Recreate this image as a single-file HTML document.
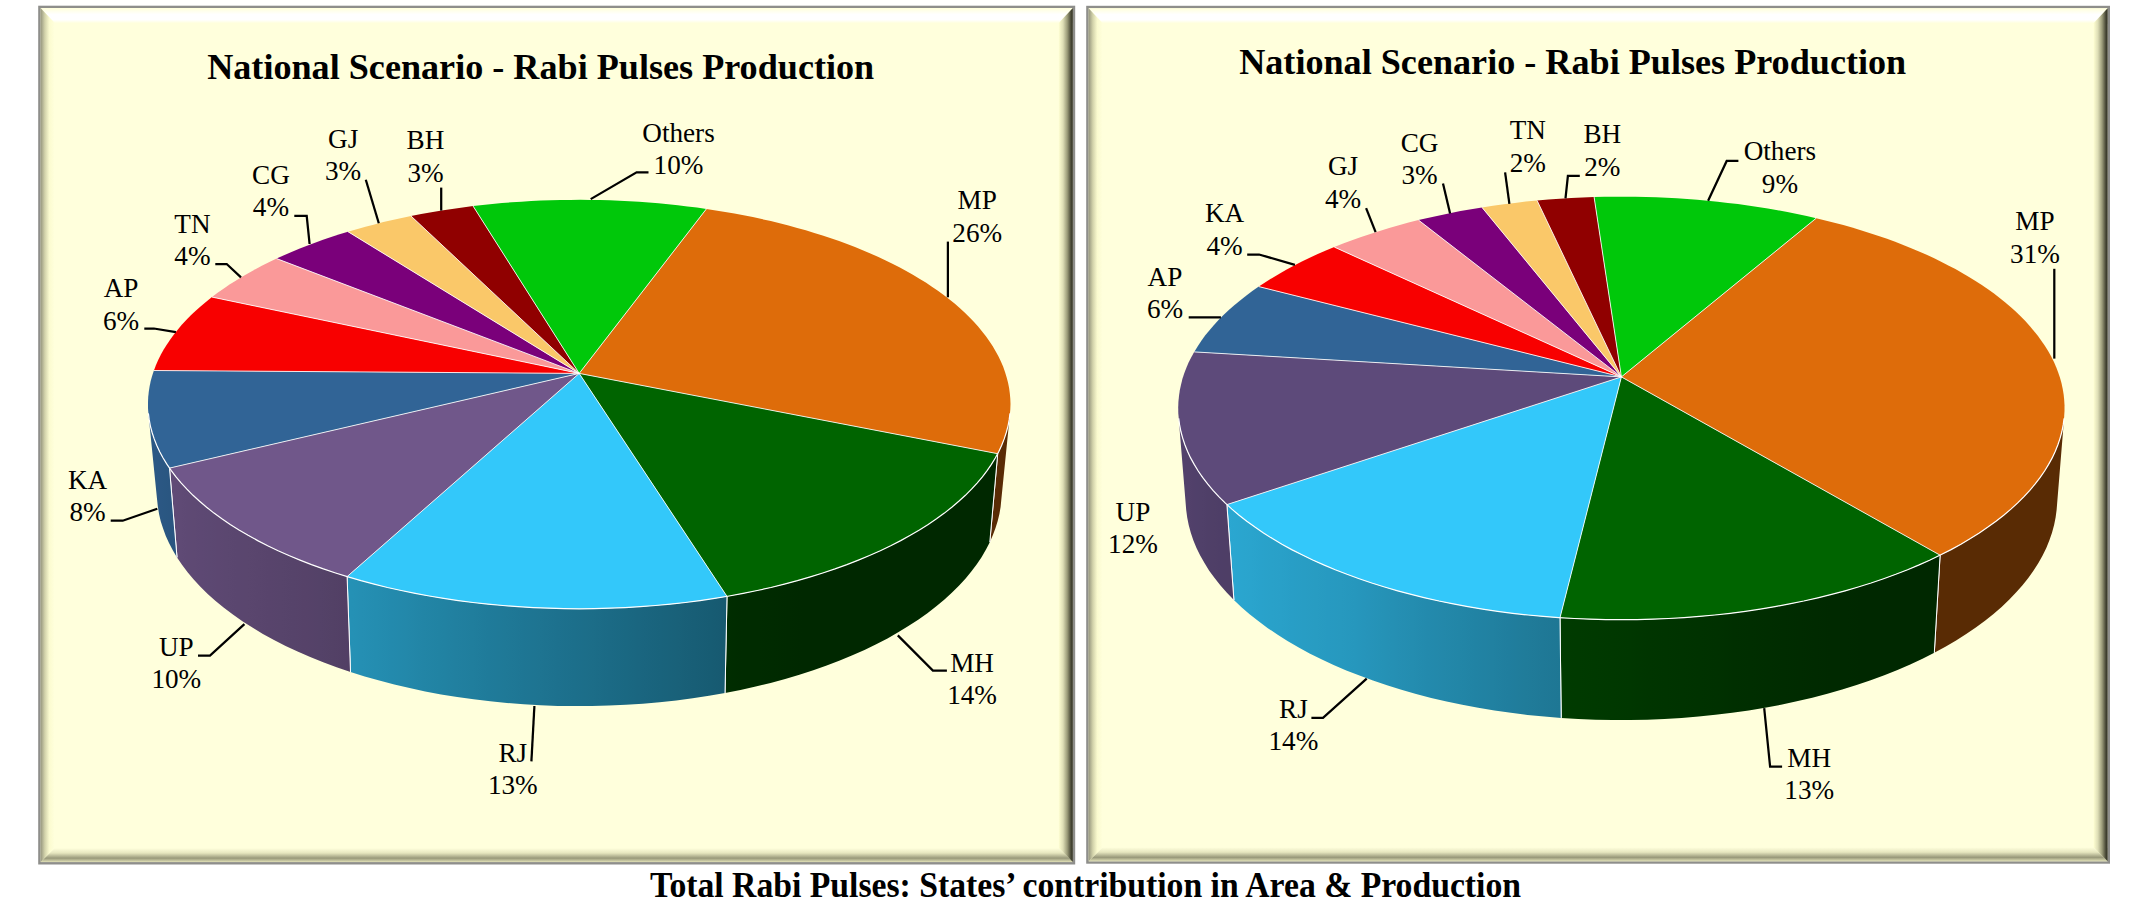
<!DOCTYPE html>
<html lang="en"><head><meta charset="utf-8"><title>Total Rabi Pulses: States’ contribution in Area &amp; Production</title>
<style>
html,body{margin:0;padding:0;background:#fff;}
body{width:2132px;height:921px;overflow:hidden;}
svg{display:block;}
text{font-family:"Liberation Serif","Times New Roman",serif;fill:#000;text-anchor:middle;}
.l text{font-size:26.4px;}
.ti{font-size:35px;font-weight:bold;}
.cap{font-size:35px;font-weight:bold;}
.ld path{fill:none;stroke:#000;stroke-width:2.25;stroke-linejoin:miter;}
.t path{stroke:none;}
.r path{stroke:#fff;stroke-width:.85;fill:none;}
.rim{stroke:#fff;stroke-width:1.2;fill:none;}
.e{stroke:#fff;stroke-width:1;fill:none;}
</style></head><body>
<svg width="2132" height="921" viewBox="0 0 2132 921">
<defs>
<linearGradient id="gt" gradientUnits="objectBoundingBox" x1="0" y1="0" x2="0" y2="1">
<stop offset="0" stop-color="#ffffdc"/><stop offset=".42" stop-color="#ffffff"/><stop offset=".78" stop-color="#ffffff"/><stop offset="1" stop-color="#ffffdc"/></linearGradient>
<linearGradient id="gb" gradientUnits="objectBoundingBox" x1="0" y1="0" x2="0" y2="1">
<stop offset="0" stop-color="#ffffdc"/><stop offset=".35" stop-color="#e6e6bf"/><stop offset=".72" stop-color="#98987a"/><stop offset="1" stop-color="#e2e2b8"/></linearGradient>
<linearGradient id="gl" gradientUnits="objectBoundingBox" x1="0" y1="0" x2="1" y2="0">
<stop offset="0" stop-color="#96967e"/><stop offset=".3" stop-color="#d2d2aa"/><stop offset=".62" stop-color="#fbfbcf"/><stop offset="1" stop-color="#ffffdc"/></linearGradient>
<linearGradient id="gr" gradientUnits="objectBoundingBox" x1="0" y1="0" x2="1" y2="0">
<stop offset="0" stop-color="#ffffd2"/><stop offset=".3" stop-color="#dedeb6"/><stop offset=".6" stop-color="#9c9c7a"/><stop offset=".85" stop-color="#4e4e3b"/><stop offset="1" stop-color="#2b2b20"/></linearGradient>
<linearGradient id="w0" gradientUnits="userSpaceOnUse" x1="997.7" y1="0" x2="1010" y2="0"><stop offset="0.000" stop-color="#592b04"/><stop offset="0.265" stop-color="#592b04"/><stop offset="0.490" stop-color="#592b04"/><stop offset="0.676" stop-color="#592b04"/><stop offset="0.822" stop-color="#592b04"/><stop offset="0.930" stop-color="#592b04"/><stop offset="1.000" stop-color="#592b04"/></linearGradient><linearGradient id="w1" gradientUnits="userSpaceOnUse" x1="727" y1="0" x2="997.7" y2="0"><stop offset="0.000" stop-color="#002d00"/><stop offset="0.058" stop-color="#002b00"/><stop offset="0.115" stop-color="#002b00"/><stop offset="0.171" stop-color="#002a00"/><stop offset="0.226" stop-color="#002900"/><stop offset="0.279" stop-color="#002800"/><stop offset="0.331" stop-color="#002800"/><stop offset="0.382" stop-color="#002800"/><stop offset="0.431" stop-color="#002800"/><stop offset="0.478" stop-color="#002800"/><stop offset="0.524" stop-color="#002800"/><stop offset="0.568" stop-color="#002800"/><stop offset="0.611" stop-color="#002800"/><stop offset="0.651" stop-color="#002800"/><stop offset="0.690" stop-color="#002800"/><stop offset="0.727" stop-color="#002800"/><stop offset="0.762" stop-color="#002800"/><stop offset="0.795" stop-color="#002800"/><stop offset="0.825" stop-color="#002800"/><stop offset="0.854" stop-color="#002800"/><stop offset="0.881" stop-color="#002800"/><stop offset="0.906" stop-color="#002800"/><stop offset="0.929" stop-color="#002800"/><stop offset="0.950" stop-color="#002800"/><stop offset="0.969" stop-color="#002800"/><stop offset="0.985" stop-color="#002800"/><stop offset="1.000" stop-color="#002800"/></linearGradient><linearGradient id="w2" gradientUnits="userSpaceOnUse" x1="347.1" y1="0" x2="727" y2="0"><stop offset="0.000" stop-color="#2592b6"/><stop offset="0.038" stop-color="#258fb3"/><stop offset="0.077" stop-color="#248db0"/><stop offset="0.117" stop-color="#238aad"/><stop offset="0.158" stop-color="#2388aa"/><stop offset="0.200" stop-color="#2285a6"/><stop offset="0.242" stop-color="#2183a3"/><stop offset="0.285" stop-color="#2180a0"/><stop offset="0.329" stop-color="#207e9d"/><stop offset="0.373" stop-color="#1f7b9a"/><stop offset="0.418" stop-color="#1f7997"/><stop offset="0.463" stop-color="#1e7694"/><stop offset="0.508" stop-color="#1e7491"/><stop offset="0.554" stop-color="#1d718e"/><stop offset="0.599" stop-color="#1c6f8b"/><stop offset="0.645" stop-color="#1c6d88"/><stop offset="0.690" stop-color="#1b6a85"/><stop offset="0.735" stop-color="#1a6882"/><stop offset="0.781" stop-color="#1a657f"/><stop offset="0.825" stop-color="#19637c"/><stop offset="0.870" stop-color="#196179"/><stop offset="0.914" stop-color="#185e76"/><stop offset="0.957" stop-color="#175c73"/><stop offset="1.000" stop-color="#175970"/></linearGradient><linearGradient id="w3" gradientUnits="userSpaceOnUse" x1="169.5" y1="0" x2="347.1" y2="0"><stop offset="0.000" stop-color="#604b77"/><stop offset="0.029" stop-color="#604a76"/><stop offset="0.062" stop-color="#5f4a75"/><stop offset="0.098" stop-color="#5e4974"/><stop offset="0.137" stop-color="#5e4973"/><stop offset="0.179" stop-color="#5d4873"/><stop offset="0.224" stop-color="#5c4872"/><stop offset="0.273" stop-color="#5c4771"/><stop offset="0.324" stop-color="#5b4770"/><stop offset="0.379" stop-color="#5a466f"/><stop offset="0.437" stop-color="#5a466e"/><stop offset="0.498" stop-color="#59456d"/><stop offset="0.561" stop-color="#58446c"/><stop offset="0.628" stop-color="#57446b"/><stop offset="0.697" stop-color="#56436a"/><stop offset="0.769" stop-color="#564269"/><stop offset="0.844" stop-color="#544268"/><stop offset="0.921" stop-color="#534166"/><stop offset="1.000" stop-color="#523f65"/></linearGradient><linearGradient id="w4" gradientUnits="userSpaceOnUse" x1="148.4" y1="0" x2="169.5" y2="0"><stop offset="0.000" stop-color="#2c5985"/><stop offset="0.042" stop-color="#2b5985"/><stop offset="0.107" stop-color="#2b5985"/><stop offset="0.196" stop-color="#2b5884"/><stop offset="0.308" stop-color="#2b5884"/><stop offset="0.445" stop-color="#2b5884"/><stop offset="0.605" stop-color="#2b5783"/><stop offset="0.790" stop-color="#2a5782"/><stop offset="1.000" stop-color="#2a5681"/></linearGradient><linearGradient id="w5" gradientUnits="userSpaceOnUse" x1="1940.1" y1="0" x2="2064.1" y2="0"><stop offset="0.000" stop-color="#592b04"/><stop offset="0.091" stop-color="#592b04"/><stop offset="0.179" stop-color="#592b04"/><stop offset="0.262" stop-color="#592b04"/><stop offset="0.341" stop-color="#592b04"/><stop offset="0.415" stop-color="#592b04"/><stop offset="0.486" stop-color="#592b04"/><stop offset="0.552" stop-color="#592b04"/><stop offset="0.613" stop-color="#592b04"/><stop offset="0.670" stop-color="#592b04"/><stop offset="0.722" stop-color="#592b04"/><stop offset="0.770" stop-color="#592b04"/><stop offset="0.814" stop-color="#592b04"/><stop offset="0.852" stop-color="#592b04"/><stop offset="0.887" stop-color="#592b04"/><stop offset="0.917" stop-color="#592b04"/><stop offset="0.942" stop-color="#592b04"/><stop offset="0.963" stop-color="#592b04"/><stop offset="0.980" stop-color="#592b04"/><stop offset="0.992" stop-color="#592b04"/><stop offset="1.000" stop-color="#592b04"/></linearGradient><linearGradient id="w6" gradientUnits="userSpaceOnUse" x1="1560" y1="0" x2="1940.1" y2="0"><stop offset="0.000" stop-color="#003b00"/><stop offset="0.046" stop-color="#003a00"/><stop offset="0.092" stop-color="#003900"/><stop offset="0.138" stop-color="#003800"/><stop offset="0.185" stop-color="#003700"/><stop offset="0.231" stop-color="#003500"/><stop offset="0.277" stop-color="#003400"/><stop offset="0.323" stop-color="#003300"/><stop offset="0.368" stop-color="#003200"/><stop offset="0.414" stop-color="#003100"/><stop offset="0.458" stop-color="#002f00"/><stop offset="0.503" stop-color="#002e00"/><stop offset="0.546" stop-color="#002d00"/><stop offset="0.589" stop-color="#002c00"/><stop offset="0.632" stop-color="#002b00"/><stop offset="0.673" stop-color="#002a00"/><stop offset="0.714" stop-color="#002900"/><stop offset="0.753" stop-color="#002900"/><stop offset="0.792" stop-color="#002800"/><stop offset="0.830" stop-color="#002800"/><stop offset="0.866" stop-color="#002800"/><stop offset="0.902" stop-color="#002800"/><stop offset="0.936" stop-color="#002800"/><stop offset="0.968" stop-color="#002800"/><stop offset="1.000" stop-color="#002800"/></linearGradient><linearGradient id="w7" gradientUnits="userSpaceOnUse" x1="1226.9" y1="0" x2="1560" y2="0"><stop offset="0.000" stop-color="#2ba7d1"/><stop offset="0.023" stop-color="#2aa6d0"/><stop offset="0.048" stop-color="#2aa5ce"/><stop offset="0.074" stop-color="#2aa4cd"/><stop offset="0.102" stop-color="#29a2cb"/><stop offset="0.132" stop-color="#29a1c9"/><stop offset="0.163" stop-color="#29a0c8"/><stop offset="0.196" stop-color="#289ec6"/><stop offset="0.231" stop-color="#289dc4"/><stop offset="0.267" stop-color="#289cc2"/><stop offset="0.304" stop-color="#279ac1"/><stop offset="0.343" stop-color="#2799bf"/><stop offset="0.383" stop-color="#2697bd"/><stop offset="0.424" stop-color="#2694ba"/><stop offset="0.467" stop-color="#2592b6"/><stop offset="0.511" stop-color="#258fb3"/><stop offset="0.556" stop-color="#248db0"/><stop offset="0.602" stop-color="#238aad"/><stop offset="0.649" stop-color="#2388aa"/><stop offset="0.697" stop-color="#2286a7"/><stop offset="0.746" stop-color="#2183a4"/><stop offset="0.796" stop-color="#2181a1"/><stop offset="0.846" stop-color="#207e9e"/><stop offset="0.897" stop-color="#207c9a"/><stop offset="0.948" stop-color="#1f7997"/><stop offset="1.000" stop-color="#1e7794"/></linearGradient><linearGradient id="w8" gradientUnits="userSpaceOnUse" x1="1178.7" y1="0" x2="1226.9" y2="0"><stop offset="0.000" stop-color="#53426c"/><stop offset="0.021" stop-color="#52426c"/><stop offset="0.052" stop-color="#52416c"/><stop offset="0.095" stop-color="#52416c"/><stop offset="0.149" stop-color="#52416b"/><stop offset="0.215" stop-color="#52416b"/><stop offset="0.292" stop-color="#51406a"/><stop offset="0.381" stop-color="#50406a"/><stop offset="0.482" stop-color="#504069"/><stop offset="0.594" stop-color="#4f3f68"/><stop offset="0.717" stop-color="#4f3f67"/><stop offset="0.853" stop-color="#4e3e67"/><stop offset="1.000" stop-color="#4e3e66"/></linearGradient></defs>
<rect x="38.2" y="5.7" width="1037" height="858.8" fill="#8e8e8b"/><rect x="40.6" y="8.1" width="1032.2" height="854" fill="#ffffdc"/><polygon points="40.6,8.1 1072.8,8.1 1058.8,23.1 54.6,23.1" fill="url(#gt)"/><polygon points="40.6,862.1 1072.8,862.1 1058.8,848.1 54.6,848.1" fill="url(#gb)"/><polygon points="40.6,8.1 54.6,23.1 54.6,848.1 40.6,862.1" fill="url(#gl)"/><polygon points="1072.8,8.1 1058.8,23.1 1058.8,848.1 1072.8,862.1" fill="url(#gr)"/>
<rect x="1086.2" y="5.8" width="1023.8" height="857.9" fill="#8e8e8b"/><rect x="1088.6" y="8.2" width="1019" height="853.1" fill="#ffffdc"/><polygon points="1088.6,8.2 2107.6,8.2 2093.6,23.2 1102.6,23.2" fill="url(#gt)"/><polygon points="1088.6,861.3 2107.6,861.3 2093.6,847.3 1102.6,847.3" fill="url(#gb)"/><polygon points="1088.6,8.2 1102.6,23.2 1102.6,847.3 1088.6,861.3" fill="url(#gl)"/><polygon points="2107.6,8.2 2093.6,23.2 2093.6,847.3 2107.6,861.3" fill="url(#gr)"/>
<g><path d="M1010 413.4L1009.2 420.1L1007.8 426.8L1006 433.5L1003.7 440.3L1000.9 447L997.7 453.7L989.8 542.2L992.9 535.1L995.5 528.1L997.7 521L999.4 513.9L1000.6 506.9L1001.3 499.8Z" fill="url(#w0)"/><path d="M997.7 453.7L989.8 542.2" class="e"/><path d="M997.7 453.7L993.7 460.7L989.2 467.7L984.1 474.7L978.5 481.6L972.3 488.4L965.5 495.1L958.3 501.8L950.4 508.3L942.1 514.8L933.2 521.1L923.7 527.3L913.8 533.3L903.3 539.2L892.3 544.9L880.9 550.4L868.9 555.7L856.5 560.9L843.7 565.8L830.4 570.5L816.7 575L802.6 579.2L788.2 583.2L773.4 586.9L758.2 590.3L742.8 593.5L727 596.4L725 693L740.5 689.9L755.7 686.5L770.6 682.9L785.2 678.9L799.4 674.7L813.3 670.2L826.7 665.5L839.8 660.5L852.4 655.3L864.5 649.9L876.2 644.2L887.5 638.4L898.2 632.3L908.4 626.1L918.2 619.7L927.4 613.2L936 606.5L944.2 599.7L951.8 592.8L958.9 585.8L965.4 578.7L971.3 571.5L976.8 564.2L981.7 556.9L986 549.6L989.8 542.2Z" fill="url(#w1)"/><path d="M997.7 453.7L989.8 542.2" class="e"/><path d="M727 596.4L725 693" class="e"/><path d="M727 596.4L710.8 599L694.3 601.3L677.6 603.4L660.7 605.1L643.7 606.5L626.6 607.5L609.3 608.3L592 608.7L574.7 608.8L557.4 608.5L540.2 607.9L523 607L505.9 605.8L488.9 604.2L472.2 602.4L455.6 600.2L439.2 597.7L423.1 594.9L407.2 591.8L391.7 588.4L376.5 584.8L361.6 580.8L347.1 576.6L350.5 672L364.7 676.5L379.3 680.6L394.3 684.5L409.6 688.1L425.2 691.4L441.1 694.4L457.2 697L473.6 699.3L490.2 701.3L506.9 703L523.7 704.3L540.7 705.2L557.7 705.9L574.8 706.1L591.9 706L608.9 705.6L625.9 704.8L642.8 703.7L659.6 702.2L676.3 700.4L692.7 698.3L709 695.8L725 693Z" fill="url(#w2)"/><path d="M727 596.4L725 693" class="e"/><path d="M347.1 576.6L350.5 672" class="e"/><path d="M347.1 576.6L333 572.2L319.3 567.5L306.1 562.5L293.3 557.4L281 552L269.2 546.4L257.9 540.7L247.1 534.7L236.9 528.6L227.1 522.4L218 516L209.3 509.4L201.3 502.8L193.8 496L186.9 489.2L180.5 482.2L174.7 475.2L169.5 468.1L177 557.4L182 564.8L187.6 572.2L193.7 579.5L200.4 586.7L207.7 593.9L215.6 600.9L223.9 607.8L232.9 614.6L242.4 621.2L252.4 627.6L262.9 633.9L274 640L285.6 645.9L297.6 651.6L310.2 657.1L323.2 662.3L336.6 667.3L350.5 672Z" fill="url(#w3)"/><path d="M347.1 576.6L350.5 672" class="e"/><path d="M169.5 468.1L177 557.4" class="e"/><path d="M169.5 468.1L165.1 461.4L161.2 454.5L157.8 447.7L154.9 440.8L152.5 434L150.6 427.1L149.3 420.2L148.4 413.4L157.1 499.8L157.9 507L159.1 514.2L160.8 521.4L163.1 528.6L165.8 535.9L169 543.1L172.8 550.2L177 557.4Z" fill="url(#w4)"/><path d="M169.5 468.1L177 557.4" class="e"/></g>
<g class="t"><path d="M579.2 373.4L706.4 208.9L715.8 210.4L725.2 211.9L734.4 213.5L743.6 215.3L752.8 217.1L761.8 219.1L770.8 221.1L779.7 223.3L788.5 225.5L797.2 227.9L805.8 230.3L814.3 232.9L822.6 235.5L830.9 238.3L839.1 241.1L847.1 244.1L855 247.1L862.7 250.2L870.4 253.5L877.9 256.8L885.2 260.2L892.4 263.7L899.4 267.3L906.2 271L912.9 274.8L919.4 278.7L925.8 282.6L931.9 286.7L937.9 290.8L943.7 295L949.2 299.3L954.6 303.6L959.7 308.1L964.6 312.6L969.4 317.2L973.8 321.8L978.1 326.6L982.1 331.4L985.9 336.2L989.4 341.2L992.6 346.1L995.6 351.2L998.4 356.3L1000.9 361.4L1003.1 366.6L1005 371.9L1006.6 377.2L1008 382.5L1009.1 387.9L1009.8 393.2L1010.3 398.7L1010.5 404.1L1010.3 409.6L1009.8 415.1L1009.1 420.6L1008 426.1L1006.6 431.6L1004.8 437.2L1002.8 442.7L1000.4 448.2L997.7 453.7Z" fill="#de6c0a"/><path d="M579.2 373.4L997.7 453.7L994.6 459.3L991.2 464.8L987.4 470.3L983.3 475.7L978.8 481.2L974 486.5L968.9 491.9L963.4 497.2L957.6 502.4L951.4 507.6L944.9 512.7L938.1 517.7L930.9 522.6L923.4 527.5L915.6 532.2L907.5 536.9L899 541.4L890.3 545.9L881.2 550.2L871.9 554.5L862.2 558.6L852.3 562.5L842.1 566.4L831.6 570.1L820.9 573.6L809.9 577L798.7 580.3L787.3 583.4L775.6 586.3L763.8 589.1L751.7 591.7L739.5 594.1L727 596.4Z" fill="#006400"/><path d="M579.2 373.4L727 596.4L714.6 598.4L702 600.3L689.3 602L676.5 603.5L663.5 604.8L650.5 605.9L637.4 606.9L624.3 607.6L611 608.2L597.8 608.6L584.5 608.7L571.3 608.7L558 608.5L544.8 608.1L531.6 607.5L518.4 606.7L505.3 605.7L492.3 604.6L479.4 603.2L466.6 601.7L453.9 599.9L441.4 598L428.9 596L416.7 593.7L404.6 591.3L392.7 588.7L381 585.9L369.5 583L358.2 579.9L347.1 576.6Z" fill="#33c8fa"/><path d="M579.2 373.4L347.1 576.6L336 573.2L325.2 569.5L314.7 565.8L304.4 561.9L294.4 557.8L284.7 553.7L275.3 549.4L266.2 545L257.4 540.4L249 535.8L240.8 531L233 526.2L225.5 521.3L218.3 516.3L211.5 511.2L205.1 506L198.9 500.7L193.2 495.4L187.7 490.1L182.7 484.7L177.9 479.2L173.5 473.7L169.5 468.1Z" fill="#70578a"/><path d="M579.2 373.4L169.5 468.1L165.9 462.7L162.7 457.3L159.8 451.8L157.2 446.3L154.9 440.9L153 435.4L151.3 429.9L150 424.4L149 418.9L148.4 413.4L148 408L148 402.5L148.2 397.1L148.8 391.7L149.6 386.4L150.7 381L152.2 375.7L153.9 370.5Z" fill="#316496"/><path d="M579.2 373.4L153.9 370.5L155.9 365.2L158.2 359.9L160.8 354.7L163.7 349.5L166.9 344.4L170.3 339.4L173.9 334.4L177.9 329.5L182 324.6L186.5 319.8L191.1 315.1L196 310.5L201.1 305.9L206.5 301.5L212 297.1Z" fill="#f80000"/><path d="M579.2 373.4L212 297.1L217.6 292.8L223.5 288.7L229.5 284.6L235.7 280.7L242.1 276.8L248.7 273L255.4 269.2L262.3 265.6L269.4 262.1L276.6 258.6Z" fill="#fa9999"/><path d="M579.2 373.4L276.6 258.6L284 255.3L291.5 252L299.2 248.8L307 245.7L315 242.7L323 239.8L331.2 237L339.5 234.3L348 231.7Z" fill="#7a007a"/><path d="M579.2 373.4L348 231.7L356.7 229.2L365.5 226.7L374.4 224.4L383.4 222.1L392.5 220L401.7 217.9L411 216Z" fill="#fac869"/><path d="M579.2 373.4L411 216L421.2 214.1L431.4 212.2L441.7 210.5L452.1 208.9L462.6 207.4L473.1 206.1Z" fill="#900000"/><path d="M579.2 373.4L473.1 206.1L482.7 205L492.3 204L502 203.1L511.7 202.3L521.5 201.7L531.2 201.1L541 200.6L550.8 200.3L560.6 200L570.5 199.9L580.3 199.8L590.1 199.9L599.9 200.1L609.7 200.3L619.5 200.7L629.3 201.2L639.1 201.8L648.8 202.5L658.5 203.3L668.2 204.2L677.8 205.2L687.4 206.4L696.9 207.6L706.4 208.9Z" fill="#00c80a"/></g>
<g class="r"><path d="M579.2 373.4L706.4 208.9"/><path d="M579.2 373.4L997.7 453.7"/><path d="M579.2 373.4L727 596.4"/><path d="M579.2 373.4L347.1 576.6"/><path d="M579.2 373.4L169.5 468.1"/><path d="M579.2 373.4L153.9 370.5"/><path d="M579.2 373.4L212 297.1"/><path d="M579.2 373.4L276.6 258.6"/><path d="M579.2 373.4L348 231.7"/><path d="M579.2 373.4L411 216"/><path d="M579.2 373.4L473.1 206.1"/></g>
<path class="rim" d="M1010 413.4L1009.2 419.7L1008 426.1L1006.3 432.5L1004.2 438.9L1001.7 445.3L998.7 451.7L995.3 458L991.4 464.4L987.1 470.6L982.4 476.9L977.1 483.1L971.5 489.2L965.4 495.3L958.8 501.3L951.8 507.2L944.4 513.1L936.5 518.8L928.2 524.4L919.4 529.9L910.3 535.3L900.7 540.6L890.7 545.7L880.3 550.7L869.5 555.5L858.4 560.1L846.9 564.6L835 568.9L822.8 573L810.3 576.9L797.4 580.7L784.3 584.2L770.9 587.5L757.2 590.5L743.2 593.4L729.1 596L714.7 598.4L700.1 600.6L685.4 602.5L670.5 604.1L655.5 605.5L640.4 606.7L625.1 607.6L609.9 608.2L594.5 608.6L579.2 608.8L563.9 608.6L548.5 608.2L533.3 607.6L518 606.7L502.9 605.5L487.9 604.1L473 602.5L458.3 600.6L443.7 598.4L429.3 596L415.2 593.4L401.2 590.5L387.5 587.5L374.1 584.2L361 580.7L348.1 576.9L335.6 573L323.4 568.9L311.5 564.6L300 560.1L288.9 555.5L278.1 550.7L267.7 545.7L257.7 540.6L248.1 535.3L239 529.9L230.2 524.4L221.9 518.8L214 513.1L206.6 507.2L199.6 501.3L193 495.3L186.9 489.2L181.3 483.1L176 476.9L171.3 470.6L167 464.4L163.1 458L159.7 451.7L156.7 445.3L154.2 438.9L152.1 432.5L150.4 426.1L149.2 419.7L148.4 413.4"/>
<g><path d="M2064.1 418.3L2063.1 425.5L2061.6 432.8L2059.5 440.1L2056.9 447.4L2053.8 454.7L2050.1 461.9L2045.8 469.1L2041 476.3L2035.6 483.4L2029.7 490.5L2023.2 497.5L2016.1 504.4L2008.5 511.2L2000.3 517.9L1991.6 524.5L1982.4 530.9L1972.6 537.2L1962.3 543.4L1951.5 549.4L1940.1 555.2L1934.3 652.8L1945.4 646.8L1956.1 640.5L1966.2 634.1L1975.8 627.5L1985 620.8L1993.5 613.9L2001.6 606.9L2009.1 599.8L2016 592.6L2022.5 585.3L2028.3 578L2033.6 570.5L2038.4 563L2042.6 555.5L2046.3 547.9L2049.4 540.3L2052 532.7L2054.1 525.1L2055.6 517.5L2056.6 509.9Z" fill="url(#w5)"/><path d="M1940.1 555.2L1934.3 652.8" class="e"/><path d="M1940.1 555.2L1928.2 560.9L1915.7 566.4L1902.7 571.7L1889.3 576.7L1875.4 581.5L1861.1 586.1L1846.4 590.4L1831.4 594.5L1815.9 598.3L1800.2 601.8L1784.1 605L1767.7 607.9L1751.1 610.5L1734.3 612.8L1717.3 614.7L1700.1 616.4L1682.7 617.7L1665.3 618.7L1647.7 619.4L1630.2 619.7L1612.6 619.7L1595 619.4L1577.5 618.7L1560 617.7L1561.2 717.9L1578.3 719L1595.5 719.7L1612.7 720L1630 720L1647.2 719.7L1664.4 719L1681.6 717.9L1698.6 716.6L1715.4 714.8L1732.2 712.8L1748.7 710.4L1765 707.7L1781 704.7L1796.8 701.3L1812.3 697.7L1827.4 693.8L1842.2 689.6L1856.6 685.1L1870.7 680.3L1884.3 675.3L1897.5 670L1910.2 664.5L1922.5 658.8L1934.3 652.8Z" fill="url(#w6)"/><path d="M1940.1 555.2L1934.3 652.8" class="e"/><path d="M1560 617.7L1561.2 717.9" class="e"/><path d="M1560 617.7L1542.8 616.4L1525.7 614.7L1508.7 612.8L1492 610.5L1475.5 607.9L1459.2 605.1L1443.2 601.9L1427.5 598.4L1412.2 594.7L1397.2 590.7L1382.5 586.4L1368.3 581.8L1354.5 577.1L1341.1 572.1L1328.2 566.8L1315.7 561.4L1303.7 555.7L1292.3 549.9L1281.3 543.8L1270.9 537.6L1261 531.3L1251.6 524.8L1242.8 518.2L1234.6 511.4L1226.9 504.6L1233.9 600L1241.5 607.2L1249.6 614.2L1258.3 621.1L1267.5 627.9L1277.3 634.5L1287.5 641L1298.3 647.3L1309.6 653.4L1321.4 659.3L1333.6 664.9L1346.3 670.4L1359.5 675.6L1373 680.6L1387 685.3L1401.4 689.8L1416.1 694L1431.2 697.9L1446.6 701.5L1462.3 704.8L1478.2 707.8L1494.5 710.5L1510.9 712.8L1527.5 714.9L1544.3 716.6L1561.2 717.9Z" fill="url(#w7)"/><path d="M1560 617.7L1561.2 717.9" class="e"/><path d="M1226.9 504.6L1233.9 600" class="e"/><path d="M1226.9 504.6L1219.8 497.6L1213.3 490.6L1207.3 483.6L1201.9 476.4L1197.1 469.2L1192.8 462L1189.1 454.7L1185.9 447.5L1183.3 440.2L1181.2 432.9L1179.7 425.6L1178.7 418.3L1186.2 509.9L1187.2 517.5L1188.7 525.1L1190.8 532.8L1193.4 540.4L1196.5 548L1200.2 555.6L1204.5 563.1L1209.2 570.7L1214.6 578.1L1220.5 585.5L1226.9 592.8L1233.9 600Z" fill="url(#w8)"/><path d="M1226.9 504.6L1233.9 600" class="e"/></g>
<g class="t"><path d="M1621.4 376.9L1816.2 218.2L1825.3 220.4L1834.3 222.7L1843.3 225.1L1852.1 227.6L1860.8 230.2L1869.4 232.9L1877.9 235.7L1886.3 238.6L1894.5 241.6L1902.6 244.7L1910.6 247.9L1918.4 251.2L1926.1 254.6L1933.7 258.1L1941.1 261.7L1948.3 265.4L1955.4 269.1L1962.2 273L1969 277L1975.5 281L1981.8 285.1L1988 289.3L1994 293.6L1999.7 298L2005.3 302.5L2010.6 307L2015.7 311.6L2020.6 316.3L2025.3 321.1L2029.7 325.9L2033.9 330.9L2037.8 335.8L2041.5 340.9L2045 346L2048.1 351.1L2051.1 356.3L2053.7 361.6L2056.1 366.9L2058.1 372.3L2060 377.7L2061.5 383.2L2062.7 388.7L2063.6 394.2L2064.2 399.7L2064.5 405.3L2064.5 410.9L2064.2 416.6L2063.6 422.2L2062.7 427.9L2061.4 433.6L2059.8 439.2L2057.9 444.9L2055.6 450.6L2053 456.2L2050.1 461.9L2046.8 467.5L2043.2 473.1L2039.3 478.7L2035 484.2L2030.4 489.7L2025.4 495.1L2020.1 500.5L2014.5 505.9L2008.5 511.2L2002.2 516.4L1995.6 521.5L1988.6 526.6L1981.3 531.6L1973.7 536.5L1965.8 541.3L1957.6 546.1L1949 550.7L1940.1 555.2Z" fill="#de6c0a"/><path d="M1621.4 376.9L1940.1 555.2L1930.9 559.6L1921.4 563.9L1911.5 568.1L1901.4 572.2L1891 576.1L1880.4 579.9L1869.5 583.5L1858.3 587L1846.9 590.3L1835.3 593.5L1823.4 596.5L1811.4 599.3L1799.1 602L1786.7 604.5L1774.1 606.8L1761.3 608.9L1748.4 610.9L1735.4 612.6L1722.2 614.2L1709 615.6L1695.6 616.8L1682.2 617.7L1668.7 618.5L1655.1 619.1L1641.5 619.5L1627.9 619.7L1614.3 619.7L1600.7 619.5L1587.1 619.1L1573.5 618.5L1560 617.7Z" fill="#006400"/><path d="M1621.4 376.9L1560 617.7L1546.5 616.7L1533.1 615.5L1519.8 614.1L1506.6 612.5L1493.5 610.7L1480.6 608.8L1467.8 606.6L1455.2 604.3L1442.7 601.8L1430.4 599.1L1418.4 596.2L1406.5 593.2L1394.8 590L1383.4 586.7L1372.3 583.1L1361.3 579.5L1350.7 575.7L1340.3 571.7L1330.2 567.6L1320.3 563.4L1310.8 559.1L1301.6 554.6L1292.6 550.1L1284 545.4L1275.7 540.6L1267.7 535.7L1260.1 530.7L1252.8 525.6L1245.8 520.5L1239.1 515.2L1232.8 509.9L1226.9 504.6Z" fill="#33c8fa"/><path d="M1621.4 376.9L1226.9 504.6L1221.2 499.1L1215.9 493.5L1210.9 488L1206.3 482.3L1202.1 476.6L1198.2 470.9L1194.6 465.2L1191.4 459.5L1188.6 453.7L1186.1 447.9L1183.9 442.1L1182.1 436.3L1180.7 430.5L1179.6 424.7L1178.8 418.9L1178.3 413.2L1178.2 407.4L1178.4 401.7L1179 396L1179.8 390.3L1181 384.7L1182.4 379.1L1184.2 373.6L1186.3 368.1L1188.6 362.6L1191.3 357.2L1194.2 351.9Z" fill="#5d4a7a"/><path d="M1621.4 376.9L1194.2 351.9L1197.6 346.4L1201.2 341L1205.1 335.6L1209.3 330.4L1213.8 325.2L1218.5 320.1L1223.5 315L1228.8 310.1L1234.3 305.2L1240.1 300.4L1246.1 295.7L1252.3 291.1L1258.8 286.6Z" fill="#316496"/><path d="M1621.4 376.9L1258.8 286.6L1265.4 282.2L1272.3 277.9L1279.4 273.7L1286.7 269.6L1294.2 265.5L1301.9 261.6L1309.7 257.8L1317.7 254.1L1325.9 250.5L1334.3 247.1Z" fill="#f80000"/><path d="M1621.4 376.9L1334.3 247.1L1343.1 243.6L1352 240.2L1361.1 237L1370.3 233.9L1379.7 230.9L1389.2 228L1398.9 225.3L1408.6 222.6L1418.5 220.1Z" fill="#fa9999"/><path d="M1621.4 376.9L1418.5 220.1L1428.8 217.7L1439.3 215.4L1449.8 213.2L1460.5 211.1L1471.2 209.2L1482 207.4Z" fill="#7a007a"/><path d="M1621.4 376.9L1482 207.4L1492.9 205.8L1503.8 204.3L1514.9 202.9L1525.9 201.6L1537.1 200.5Z" fill="#fac869"/><path d="M1621.4 376.9L1537.1 200.5L1548.4 199.6L1559.8 198.7L1571.2 198L1582.6 197.5L1594.1 197.1Z" fill="#900000"/><path d="M1621.4 376.9L1594.1 197.1L1604.4 196.8L1614.8 196.7L1625.1 196.7L1635.5 196.8L1645.8 197L1656.2 197.3L1666.5 197.8L1676.8 198.3L1687.1 199L1697.3 199.8L1707.5 200.7L1717.7 201.7L1727.8 202.9L1737.9 204.1L1747.9 205.5L1757.9 207L1767.8 208.5L1777.6 210.3L1787.4 212.1L1797.1 214L1806.7 216L1816.2 218.2Z" fill="#00c80a"/></g>
<g class="r"><path d="M1621.4 376.9L1816.2 218.2"/><path d="M1621.4 376.9L1940.1 555.2"/><path d="M1621.4 376.9L1560 617.7"/><path d="M1621.4 376.9L1226.9 504.6"/><path d="M1621.4 376.9L1194.2 351.9"/><path d="M1621.4 376.9L1258.8 286.6"/><path d="M1621.4 376.9L1334.3 247.1"/><path d="M1621.4 376.9L1418.5 220.1"/><path d="M1621.4 376.9L1482 207.4"/><path d="M1621.4 376.9L1537.1 200.5"/><path d="M1621.4 376.9L1594.1 197.1"/></g>
<path class="rim" d="M2064.1 418.3L2063.2 424.9L2061.9 431.5L2060.1 438.1L2057.9 444.7L2055.3 451.3L2052.2 457.9L2048.6 464.4L2044.6 471L2040.2 477.4L2035.2 483.9L2029.8 490.3L2024 496.6L2017.7 502.9L2010.9 509.1L2003.7 515.2L1996 521.2L1987.9 527.1L1979.3 532.9L1970.4 538.6L1960.9 544.2L1951.1 549.6L1940.8 554.8L1930.1 560L1919.1 564.9L1907.6 569.7L1895.8 574.3L1883.6 578.7L1871.1 583L1858.2 587L1845.1 590.8L1831.6 594.4L1817.8 597.8L1803.8 601L1789.5 603.9L1775 606.6L1760.2 609.1L1745.3 611.3L1730.2 613.3L1714.9 615L1699.5 616.4L1684.1 617.6L1668.5 618.5L1652.8 619.2L1637.1 619.6L1621.4 619.7L1605.7 619.6L1590 619.2L1574.3 618.5L1558.7 617.6L1543.3 616.4L1527.9 615L1512.6 613.3L1497.5 611.3L1482.6 609.1L1467.8 606.6L1453.3 603.9L1439 601L1425 597.8L1411.2 594.4L1397.7 590.8L1384.6 587L1371.7 583L1359.2 578.7L1347 574.3L1335.2 569.7L1323.7 564.9L1312.7 560L1302 554.8L1291.7 549.6L1281.9 544.2L1272.4 538.6L1263.5 532.9L1254.9 527.1L1246.8 521.2L1239.1 515.2L1231.9 509.1L1225.1 502.9L1218.8 496.6L1213 490.3L1207.6 483.9L1202.6 477.4L1198.2 471L1194.2 464.4L1190.6 457.9L1187.5 451.3L1184.9 444.7L1182.7 438.1L1180.9 431.5L1179.6 424.9L1178.7 418.3"/>
<g class="ld"><path d="M648.5 172.4L636.6 172.4L590.7 199.1"/><path d="M947.9 241.6L947.9 297.3"/><path d="M897.8 635.4L932.9 670.5L946.9 670.5"/><path d="M534.4 706L531.4 761.4"/><path d="M198 655.7L210 655.7L244.4 624.2"/><path d="M110.7 520.7L122.7 520.7L157.3 508.8"/><path d="M144.3 328.5L153.9 328.5L175.9 332.1"/><path d="M215.3 264L226.7 264L241 277.4"/><path d="M294.3 215.8L306.7 215.8L309.6 244"/><path d="M365.8 179.8L378.8 223.2"/><path d="M441.2 187.6L441.2 210.6"/></g>
<g class="ld"><path d="M1188.7 317.3L1220.9 317.3"/><path d="M1247.2 254.5L1259.1 254.5L1294.9 264.8"/><path d="M1366.1 208.2L1375.6 232.1"/><path d="M1443 183.6L1450.1 213.4"/><path d="M1505.1 172.4L1509.4 203.9"/><path d="M1579.8 175.9L1567.9 175.9L1565.5 198.4"/><path d="M1738.4 160.9L1726.7 160.9L1708.1 200.8"/><path d="M2054.3 268.8L2054.3 358.6"/><path d="M1764.2 708.1L1770.1 766.6L1782.1 766.6"/><path d="M1311.4 717.9L1323 717.9L1366.7 678.7"/></g>
<g class="l"><text transform="translate(678.5 141.8) scale(1.03 1)">Others</text><text transform="translate(678.5 174.1) scale(1.03 1)">10%</text><text transform="translate(977.2 209.2) scale(1.03 1)">MP</text><text transform="translate(977.2 241.5) scale(1.03 1)">26%</text><text transform="translate(972.1 671.9) scale(1.03 1)">MH</text><text transform="translate(972.1 704.2) scale(1.03 1)">14%</text><text transform="translate(512.8 761.8) scale(1.03 1)">RJ</text><text transform="translate(512.8 794) scale(1.03 1)">13%</text><text transform="translate(176.3 655.5) scale(1.03 1)">UP</text><text transform="translate(176.3 687.8) scale(1.03 1)">10%</text><text transform="translate(87.6 489) scale(1.03 1)">KA</text><text transform="translate(87.6 521.3) scale(1.03 1)">8%</text><text transform="translate(121.1 297.3) scale(1.03 1)">AP</text><text transform="translate(121.1 329.6) scale(1.03 1)">6%</text><text transform="translate(192.4 232.8) scale(1.03 1)">TN</text><text transform="translate(192.4 265.1) scale(1.03 1)">4%</text><text transform="translate(270.9 183.8) scale(1.03 1)">CG</text><text transform="translate(270.9 216.1) scale(1.03 1)">4%</text><text transform="translate(343.1 147.7) scale(1.03 1)">GJ</text><text transform="translate(343.1 180) scale(1.03 1)">3%</text><text transform="translate(425.5 149.4) scale(1.03 1)">BH</text><text transform="translate(425.5 181.8) scale(1.03 1)">3%</text></g>
<g class="l"><text transform="translate(1165 286) scale(1.03 1)">AP</text><text transform="translate(1165 318.3) scale(1.03 1)">6%</text><text transform="translate(1224.6 222.2) scale(1.03 1)">KA</text><text transform="translate(1224.6 254.5) scale(1.03 1)">4%</text><text transform="translate(1343 175.4) scale(1.03 1)">GJ</text><text transform="translate(1343 207.7) scale(1.03 1)">4%</text><text transform="translate(1419.6 151.5) scale(1.03 1)">CG</text><text transform="translate(1419.6 183.8) scale(1.03 1)">3%</text><text transform="translate(1527.8 139.2) scale(1.03 1)">TN</text><text transform="translate(1527.8 171.5) scale(1.03 1)">2%</text><text transform="translate(1602.3 143.4) scale(1.03 1)">BH</text><text transform="translate(1602.3 175.8) scale(1.03 1)">2%</text><text transform="translate(1779.9 160.2) scale(1.03 1)">Others</text><text transform="translate(1779.9 192.5) scale(1.03 1)">9%</text><text transform="translate(2035 230.3) scale(1.03 1)">MP</text><text transform="translate(2035 262.6) scale(1.03 1)">31%</text><text transform="translate(1133 521) scale(1.03 1)">UP</text><text transform="translate(1133 553.3) scale(1.03 1)">12%</text><text transform="translate(1293.4 717.9) scale(1.03 1)">RJ</text><text transform="translate(1293.4 750.1) scale(1.03 1)">14%</text><text transform="translate(1809.2 766.9) scale(1.03 1)">MH</text><text transform="translate(1809.2 799.2) scale(1.03 1)">13%</text></g>
<text class="ti" x="540.7" y="78.6" textLength="667" lengthAdjust="spacingAndGlyphs">National Scenario - Rabi Pulses Production</text>
<text class="ti" x="1572.7" y="73.7" textLength="667" lengthAdjust="spacingAndGlyphs">National Scenario - Rabi Pulses Production</text>
<text class="cap" x="1085.5" y="896.9" textLength="871" lengthAdjust="spacingAndGlyphs">Total Rabi Pulses: States’ contribution in Area &amp; Production</text>
</svg>
</body></html>
